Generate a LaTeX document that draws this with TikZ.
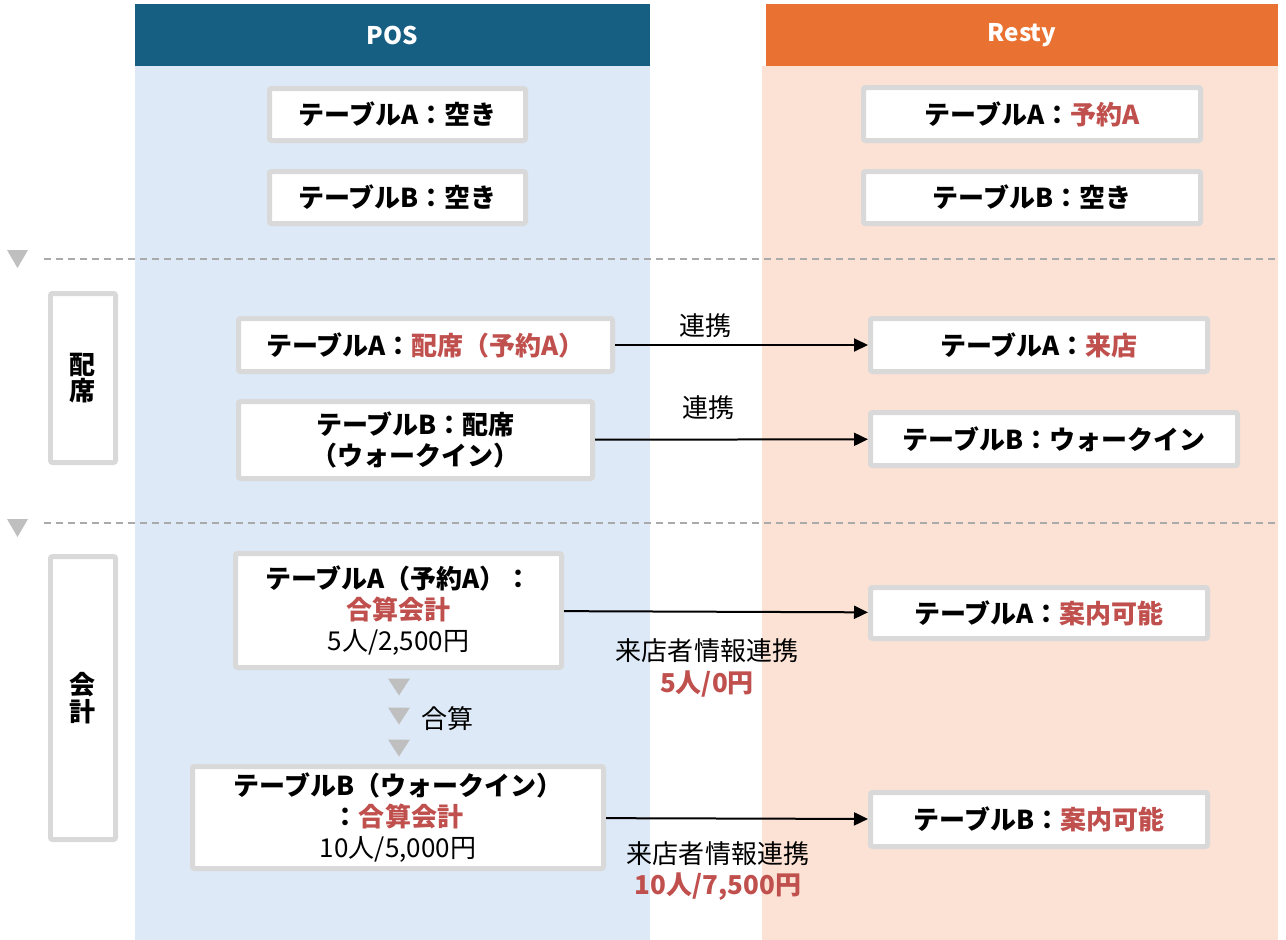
\documentclass[tikz,border=0pt]{standalone}
\usepackage{fontspec}
\setmainfont{Noto Sans CJK JP}
\usetikzlibrary{arrows.meta}
\usepackage{xcolor}

\definecolor{posblue}{RGB}{22,94,130}
\definecolor{posbg}{RGB}{221,233,246}
\definecolor{restyorange}{RGB}{233,113,50}
\definecolor{restybg}{RGB}{251,226,213}
\definecolor{boxgray}{RGB}{217,217,217}
\definecolor{accent}{RGB}{192,80,77}
\definecolor{linegray}{RGB}{170,170,170}
\definecolor{markgray}{RGB}{191,191,191}

\tikzset{
  tbox/.style 2 args={draw=boxgray, line width=0.1cm, fill=white, rounded corners=0.04cm,
    inner sep=0pt, minimum width={(#1-5)*0.02cm}, minimum height={(#2-5)*0.02cm},
    font=\fontsize{14.8}{17.7}\selectfont\bfseries, align=center},
  head/.style={text=white, font=\fontsize{13.8}{16}\selectfont\bfseries},
  link/.style={-{Triangle[length=0.28cm,width=0.26cm]}, line width=0.04cm},
  note/.style={font=\fontsize{14.8}{18.2}\selectfont, align=center, inner sep=0pt},
  sep/.style={draw=linegray, line width=0.03cm, dash pattern=on 0.14cm off 0.1cm},
}
\newcommand{\hl}[1]{\textcolor{accent}{#1}}

\begin{document}
\begin{tikzpicture}[x=0.02cm,y=-0.02cm]
\useasboundingbox (0,0) rectangle (1286,940);

% columns
\fill[posbg] (135,66) rectangle (650,940);
\fill[restybg] (762,66) rectangle (1278,940);
\fill[posblue] (135,4) rectangle (650,66);
\fill[restyorange] (766,4) rectangle (1278,66);
\node[head] (pos) at (392,35) {POS};
\node[head] (resty) at (1022,35) {Resty};

% stage separators
\draw[sep] (44,259) -- (1278,259);
\draw[sep] (44,523) -- (1278,523);
\foreach \y in {250,519} \fill[markgray] (7,\y) -- (28,\y) -- (17.5,\y+18) -- cycle;

% stage labels
\node[tbox={70}{174}] (seat) at (83,378) {配\\[-2.5pt]席};
\node[tbox={70}{288}] (pay) at (83,698) {会\\[-2.5pt]計};

% initial state
\node[tbox={261}{57}] (posA) at (397.5,114.5) {テーブルA：空き};
\node[tbox={261}{57}] (posB) at (397.5,197.5) {テーブルB：空き};
\node[tbox={342}{58}] (rsA) at (1032,114) {テーブルA：\hl{予約A}};
\node[tbox={342}{57}] (rsB) at (1032,197.5) {テーブルB：空き};

% seating
\node[tbox={379}{58}] (seatA) at (425.5,345) {テーブルA：\hl{配席（予約A）}};
\node[tbox={359}{82}] (seatB) at (415.5,440) {テーブルB：配席\\（ウォークイン）};
\node[tbox={342}{58}] (visitA) at (1039,345) {テーブルA：\hl{来店}};
\node[tbox={372}{58}] (walkB) at (1054,439) {テーブルB：ウォークイン};

\draw[link] (seatA) -- (visitA);
\draw[link] (seatB) -- (walkB);
\node[note] (linkA) at (705,326) {連携};
\node[note] (linkB) at (708,408) {連携};

% payment
\node[tbox={331}{119}] (payA) at (398.5,610.5) {テーブルA（予約A）：\\\hl{合算会計}\\{\mdseries 5人/2,500円}};
\node[tbox={416}{107}] (payB) at (398,817.5) {テーブルB（ウォークイン）\\：\hl{合算会計}\\{\mdseries 10人/5,000円}};
\node[tbox={342}{56}] (okA) at (1039,613) {テーブルA：\hl{案内可能}};
\node[tbox={342}{59}] (okB) at (1039,819.5) {テーブルB：\hl{案内可能}};

\foreach \y in {687,716,748} \fill[markgray] (388,\y-8.5) -- (410,\y-8.5) -- (399,\y+8.5) -- cycle;
\node[note] (sum) at (447,719) {合算};

\draw[link] (payA) -- (okA);
\draw[link] (payB) -- (okB);
\node[note] (infoA) at (707,668) {来店者情報連携\\\textbf{\hl{5人/0円}}};
\node[note] (infoB) at (718,871) {来店者情報連携\\\textbf{\hl{10人/7,500円}}};

\end{tikzpicture}
\end{document}
